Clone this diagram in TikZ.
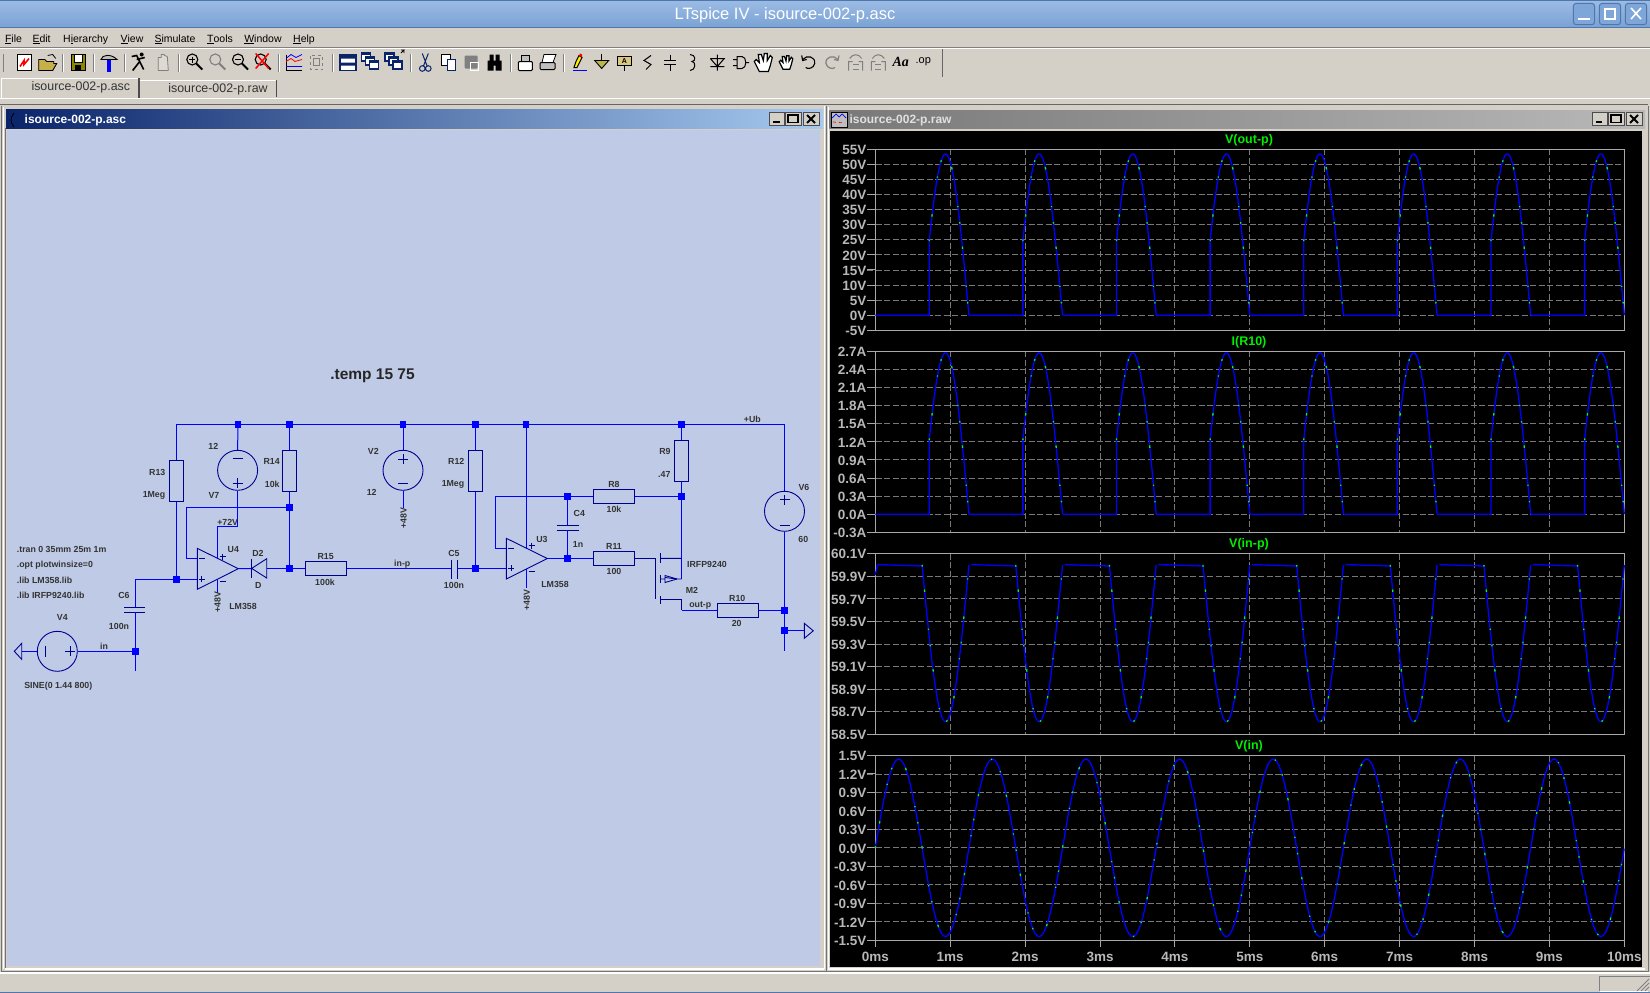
\documentclass[tikz,border=0pt]{standalone}
\usepackage{fontspec}
\setmainfont{Liberation Sans}
\newfontfamily\serifbi{Liberation Serif}
\usetikzlibrary{calc}
\definecolor{panel}{HTML}{D4D0C8}
\definecolor{canvas}{HTML}{BFCBE6}
\definecolor{wirec}{HTML}{0000FF}
\definecolor{compc}{HTML}{000090}
\definecolor{axisc}{HTML}{A8A8A8}
\definecolor{gridc}{HTML}{787878}
\definecolor{labc}{HTML}{B8B8B8}
\definecolor{ttlgreen}{HTML}{00F000}
\definecolor{folder}{HTML}{C8B048}
\definecolor{titletop}{HTML}{9ABBE4}
\definecolor{titlebot}{HTML}{7BA2D4}
\definecolor{btnc}{HTML}{7FA6D8}
\definecolor{btnb}{HTML}{4F77AB}
\definecolor{navyt}{HTML}{0A246A}
\definecolor{lightt}{HTML}{A6CAF0}
\newcommand{\ylabels}[4]{%
    \foreach \yl [count=\i from 0] in {#4} {
        \node[ylab] (#1\i) at (866.5,{#2+\i*#3}) {\yl};
        \draw[griddash] (867,{#2+\i*#3}) -- (1624.3,{#2+\i*#3});
        \draw[axisl] (867,{#2+\i*#3}) -- (875.3,{#2+\i*#3});
    }}
\tikzset{
    wire/.style={wirec,line width=1},
    comp/.style={compc,line width=.9},
    resv/.style={draw=compc,line width=.9,rectangle,inner sep=0pt,minimum width=14,minimum height=41},
    resh/.style={draw=compc,line width=.9,rectangle,inner sep=0pt,minimum width=41,minimum height=14},
    vsrc/.style={draw=compc,line width=.9,circle,inner sep=0pt,minimum size=40},
    lbl/.style={font=\bfseries\fontsize{8.8}{10}\selectfont,inner sep=0pt,text=black!80,yshift=-.8pt},
    menul/.style={font=\fontsize{10.5}{12}\selectfont,inner sep=0pt},
    wintitle/.style={font=\bfseries\fontsize{12}{14}\selectfont,inner sep=0pt,anchor=west},
    ylab/.style={font=\bfseries\fontsize{13.5}{15}\selectfont,inner sep=0pt,text=labc,anchor=east,yshift=-.5pt},
    xlab/.style={font=\bfseries\fontsize{13.5}{15}\selectfont,inner sep=0pt,text=labc},
    ptitle/.style={font=\bfseries\fontsize{12.5}{14}\selectfont,inner sep=0pt,text=ttlgreen,yshift=-1pt},
    griddash/.style={gridc,line width=.9,dash pattern=on 6pt off 2.5pt},
    axisl/.style={axisc,line width=1},
    trace/.style={wirec,line width=1.3},
    tracedot/.style={green,line width=1.3,dash pattern=on 1.6pt off 23pt on 2.4pt off 37pt on 1.2pt off 15pt},
    plus/.pic={\draw[comp] (-3,0) -- (3,0) (0,-3) -- (0,3);},
    minus/.pic={\draw[comp] (-3,0) -- (3,0);},
    bigplus/.pic={\draw[comp] (-5,0) -- (5,0) (0,-5) -- (0,5);},
    bigminus/.pic={\draw[comp] (-5,0) -- (5,0);},
    winbtn/.style={draw=black!70,fill=panel,line width=.8}
}
\begin{document}
\begin{tikzpicture}[x=1pt,y=-1pt,declare function={tx(\t)=875.3+74.9*\t;}]
    \useasboundingbox (0,0) rectangle (1650,993);
    \fill[panel] (0,0) rectangle (1650,993);
    % main title bar
    \shade[top color=titletop,bottom color=titlebot] (0,1) rectangle (1650,27);
    \draw[btnb,line width=1] (0,.5) -- (1650,.5) (0,27.5) -- (1650,27.5);
    \node[font=\fontsize{16.5}{18}\selectfont,text=white,inner sep=0pt] (maintitle) at (785,15.5) {LTspice IV - isource-002-p.asc};
    \foreach \x in {1584,1610,1636} {
        \draw[btnb,fill=btnc,rounded corners=3,line width=1] (\x-10.7,3.3) rectangle (\x+10.7,24.7);
    }
    \draw[white,line width=1.6] (1578,19) -- (1590,19);
    \draw[white,line width=1.2] (1605,9) rectangle (1615,19);
    \draw[white,line width=1.6] (1631,8) -- (1641,19) (1641,8) -- (1631,19);
    % menu bar
    \foreach \nm/\x/\txt in {mfile/13.5/\underline{F}ile,medit/41.6/\underline{E}dit,mhier/85.7/H\underline{i}erarchy,mview/132/\underline{V}iew,msim/175/\underline{S}imulate,mtools/220/\underline{T}ools,mwin/263/\underline{W}indow,mhelp/304/\underline{H}elp} {
        \node[menul] (\nm) at (\x,39.3) {\txt};
    }
    \draw[white,line width=1] (0,48) -- (1650,48);
    \draw[gray,line width=.6] (0,47.2) -- (1650,47.2);
    \draw[white,line width=1] (0,98.3) -- (1650,98.3);
    \draw[black!60,line width=1.2] (0,104.5) -- (1648,104.5);
    % toolbar
    \draw[gray,line width=1] (3.3,54) -- (3.3,72);
    \foreach \x in {62.7,93.7,124.7,178.3,278.3,332.7,410,510,563.7} {
        \draw[gray,line width=1] (\x,54) -- (\x,72);
        \draw[white,line width=.6] (\x+1,54) -- (\x+1,72);
    }
    \draw[black!60,line width=1] (942.7,49) -- (942.7,77);
    \draw[shift={(24,62.5)},fill=white,line width=1] (-7,-8) rectangle (7,8);
    \draw[shift={(24,62.5)},red,line width=1.6] (-4,4) -- (0,-2) -- (0,2) -- (5,-4);
    \draw[shift={(47.7,62.5)},fill=folder,line width=.9] (-9,8) -- (-9,-3) -- (-3,-3) -- (-1,-1) -- (6,-1) -- (6,1) -- (9,1) -- (5,8) -- cycle;
    \draw[shift={(47.7,62.5)},line width=.8] (0,-7) -- (5,-8) -- (8,-4);
    \draw[shift={(78,62.5)},fill=olive,line width=1] (-7,-8) rectangle (7,8);
    \draw[shift={(78,62.5)},fill=white,line width=.6] (-4,-8) rectangle (4,0);
    \draw[shift={(78,62.5)},fill=black,line width=.6] (-3,3) rectangle (2,8);
    \draw[shift={(109,62.5)},fill=lightgray,line width=.9] (-8,-3) .. controls (-7,-8) and (2,-9) .. (8,-3) -- (3,-3) -- (-3,-3) -- cycle;
    \fill[shift={(109,62.5)},wirec] (-2,-3) rectangle (2,9);
    \draw[shift={(138.7,62.5)},line width=1.6] (-7,-6) -- (-2,-7) -- (1,-1) -- (-6,8) (1,-1) -- (5,7) (-2,-3) -- (6,-5);
    \fill[shift={(138.7,62.5)}] (3,-8) circle (2);
    \draw[shift={(163.3,62.5)},gray,fill=panel!80!white,line width=.8] (-5,8) -- (-5,-5) -- (-2,-5) -- (-2,-8) -- (1,-8) -- (1,-7) -- (4,-6) -- (5,8) -- cycle;
    \foreach \x/\c in {194.3/black,217.3/gray,240/black,262.7/black} {
        \draw[shift={(\x,61.5)},\c,line width=1.1] (-2,-2) circle (5.5);
        \draw[shift={(\x,61.5)},\c,line width=2] (2,2) -- (8,8);
    }
    \draw[shift={(194.3,61.5)},line width=.8] (-5,-2) -- (1,-2) (-2,-5) -- (-2,1);
    \draw[shift={(240,61.5)},line width=.8] (-5,-2) -- (1,-2);
    \draw[shift={(262.7,61.5)},red,line width=1.5] (-7,-8) -- (6,7) (6,-8) -- (-7,7);
    \draw[shift={(294,62.5)},line width=1] (-8,-8) -- (-8,8) -- (8,8);
    \draw[shift={(294,62.5)},red,line width=.8] (-8,-1) -- (-3,-4) -- (1,-1) -- (8,-3);
    \draw[shift={(294,62.5)},wirec,line width=.8] (-8,-4) -- (-3,-8) -- (2,-5) -- (8,-8) (-8,4) -- (8,4);
    \draw[shift={(316.7,62.5)},gray,line width=.9,dashed] (-6,-7) rectangle (6,7);
    \draw[shift={(316.7,62.5)},gray,line width=.9] (-3,-4) rectangle (3,3);
    \draw[shift={(348,62.5)},navyt,fill=white,line width=1.4] (-8,-8) rectangle (8,8);
    \fill[shift={(348,62.5)},navyt] (-8,-8) rectangle (8,-4) (-8,0) rectangle (8,3);
    \foreach \x in {370.7,394} {
        \foreach \d in {0,4,8} {
            \draw[shift={(\x-6+\d,55+\d)},navyt,fill=white,line width=1.1] (-3,-2) rectangle (6,6);
            \fill[shift={(\x-6+\d,55+\d)},navyt] (-3,-2) rectangle (6,0);
        }
    }
    \draw[line width=.9] (401,53) -- (404,50) -- (401,50) (404,50) -- (404,53);
    \draw[shift={(425.3,62.5)},navyt,line width=1] (-3,-9) -- (2,4) (3,-9) -- (-2,4) (-3,6) circle (2.8) (3,6) circle (2.8);
    \draw[shift={(448.3,62.5)},fill=white,line width=.9] (-7,-8) rectangle (2,3);
    \draw[shift={(448.3,62.5)},navyt,fill=white,line width=.9] (-1,-3) rectangle (7,8);
    \fill[shift={(471.7,62.5)},gray,rounded corners=1] (-7,-7) rectangle (6,6);
    \draw[shift={(471.7,62.5)},white,line width=.8] (-1,0) rectangle (7,8);
    \fill[shift={(494.7,62.5)}] (-7,-2) rectangle (-1,8) (1,-2) rectangle (7,8) (-5,-8) rectangle (-1,-2) (1,-8) rectangle (5,-2) (-2,-2) rectangle (2,3);
    \draw[shift={(525.3,62.5)},fill=white,line width=1,rounded corners=1] (-7,-1) rectangle (7,8);
    \draw[shift={(525.3,62.5)},fill=lightgray,line width=.8] (-4,-7) rectangle (4,-1);
    \draw[shift={(548,62.5)},fill=lightgray,line width=1,rounded corners=1] (-8,0) rectangle (7,7);
    \draw[shift={(548,62.5)},fill=white,line width=.8] (-4,-8) -- (8,-8) -- (5,0) -- (-6,0) -- cycle;
    \draw[shift={(580,62.5)},wirec,line width=1] (-7,8) -- (7,8);
    \draw[shift={(580,62.5)},fill=yellow,line width=1] (-6,5) -- (-4,-1) -- (-1,-7) -- (2,-5) -- (-3,5) -- cycle;
    \fill[shift={(580,62.5)},red] (-1,-7) -- (0,-9) -- (2,-8) -- (2,-5) -- cycle;
    \draw[shift={(601.7,62.5)},line width=.9] (0,-9) -- (0,-2) (-7,-2) -- (7,-2);
    \draw[shift={(601.7,62.5)},fill=olive!60,line width=.9] (-7,-2) -- (7,-2) -- (0,6) -- cycle;
    \draw[shift={(624.3,62.5)},fill=folder!70,line width=1.2] (-7,-6) rectangle (7,3);
    \draw[shift={(624.3,62.5)},line width=.9] (0,3) -- (0,8);
    \node[font=\bfseries\fontsize{7}{8}\selectfont,inner sep=0pt] (ticona) at (624.3,61) {A};
    \draw[shift={(648,62.5)},line width=1] (3,-7) -- (-4,-2) -- (3,2) -- (-2,7);
    \draw[shift={(670.3,62.5)},line width=1] (0,-8) -- (0,-2) (-6,-2) -- (6,-2) (-6,2) -- (6,2) (0,2) -- (0,8);
    \draw[shift={(693,62.5)},line width=1] (-3,-8) .. controls (3,-8) and (3,-1) .. (-1,-1) .. controls (3,-1) and (3,8) .. (-3,8);
    \draw[shift={(717.3,62.5)},line width=1] (0,-8) -- (0,8) (-7,-4) -- (7,-4) -- (0,4) -- (-7,-4) (-7,4) -- (7,4);
    \draw[shift={(740,62.5)},line width=1] (-3,-6) -- (2,-6) .. controls (7,-6) and (7,6) .. (2,6) -- (-3,6) -- cycle (-7,-3) -- (-3,-3) (-7,3) -- (-3,3) (6,0) -- (9,0);
    \foreach \x/\s in {763.3/1,786/.75} {
        \draw[shift={(\x,62.5)},scale=\s,fill=white,line width=1.2] (-4,9) -- (-9,-1) -- (-7,-3) -- (-4,0) -- (-5,-8) -- (-2,-8) -- (0,-2) -- (1,-9) -- (4,-9) -- (4,-2) -- (7,-7) -- (9,-5) -- (7,3) -- (5,9) -- cycle;
    }
    \draw[shift={(808.7,62.5)},line width=1.1] (-6,-3) .. controls (-2,-8) and (7,-6) .. (6,1) .. controls (5,6) and (-1,7) .. (-3,5);
    \draw[shift={(808.7,62.5)},line width=1.1] (-7,-7) -- (-6,-2) -- (-2,-3);
    \draw[shift={(832,62.5)},gray,line width=1.2] (6,-3) .. controls (2,-8) and (-7,-6) .. (-6,1) .. controls (-5,6) and (1,7) .. (3,5);
    \draw[shift={(832,62.5)},gray,line width=1.1] (7,-7) -- (6,-2) -- (2,-3);
    \foreach \x in {855.7,878.3} {
        \draw[shift={(\x,62.5)},gray,line width=1] (-7,8) -- (-7,-1) -- (-3,-1) (7,8) -- (7,-1) -- (3,-1) (-6,-4) .. controls (-3,-9) and (3,-9) .. (6,-4);
        \draw[shift={(\x,62.5)},gray,line width=1] (-3,2) -- (3,2) (-3,7) -- (3,7);
    }
    \node[font=\serifbi\bfseries\itshape\fontsize{14}{15}\selectfont,inner sep=0pt] (ticonaa) at (900.7,62) {Aa};
    \node[font=\fontsize{11}{12}\selectfont,inner sep=0pt] (ticonop) at (923.3,61.5) {.op};
    % tabs
    \draw[white,line width=1] (1.7,97.7) -- (1.7,78) -- (139,78);
    \draw[black!70,line width=1.2] (139,78) -- (139,98);
    \draw[white,line width=1] (140,80) -- (276.5,80);
    \draw[black!70,line width=1.2] (276.5,80) -- (276.5,97);
    \node[font=\fontsize{12.4}{14}\selectfont,inner sep=0pt,text=black!80] (tabasc) at (80.8,87.7) {isource-002-p.asc};
    \node[font=\fontsize{12.4}{14}\selectfont,inner sep=0pt,text=black!80] (tabraw) at (218,89) {isource-002-p.raw};
    % window frames
    \draw[black!55,line width=1] (1.5,106) -- (1.5,971.5) -- (1648,971.5) -- (1648,106);
    \draw[white,line width=1] (3,107) -- (3,969);
    \draw[white,line width=1.6] (0,973) -- (1650,973);
    \draw[black!55,line width=1] (5.8,128) -- (5.8,968) -- (821,968);
    \draw[white,line width=1.4] (5,968.8) -- (824,968.8);
    \draw[white,line width=1] (824.5,106) -- (824.5,969);
    \draw[black!55,line width=1] (826.5,106) -- (826.5,971);
    \draw[white,line width=1] (828,107) -- (828,969);
    \draw[white,line width=1.4] (828,968.8) -- (1645,968.8);
    % schematic window
    \shade[left color=navyt,right color=lightt] (6,109.5) rectangle (823,128.3);
    \fill[canvas] (7.3,130) rectangle (820,966);
    \node[wintitle,text=white] (asctitle) at (24.5,120) {isource-002-p.asc};
    \draw[line width=.8] (14,113) .. controls (10,118) and (10,122) .. (14,127);
    \draw[winbtn] (769.3,112.7) rectangle (784,125.3);
    \draw[winbtn] (785,112.7) rectangle (801,125.3);
    \draw[winbtn] (803,112.7) rectangle (819,125.3);
    \draw[line width=1.6] (773,122) -- (780,122);
    \draw[line width=1.2] (788,115) rectangle (798,122.5);
    \draw[line width=1.8] (807,115) -- (815,123) (815,115) -- (807,123);
    % nodes of the schematic
    \coordinate (BusL) at (176.5,424.3);
    \foreach \nm/\x/\y in {B1/238/424.3,B2/289.5/424.3,B3/403/424.3,B4/475.5/424.3,B5/526/424.3,B6/681.5/424.3,Jin/176.5/579.3,Jv/135.3/651.3,Jf/289.5/507.3,Jo/289.5/568.3,Jc/475.5/568.3,Jn/567.3/496.3,Jm/567.3/558.5,Js/681.5/496.3,Jr/784.5/610.3,Jg/784.5/630.3} {
        \coordinate (\nm) at (\x,\y);
    }
    \coordinate (BusR) at (784.5,424.3);
    \node[resv] (R13) at (176.5,480.7) {};
    \node[resv] (R14) at (289.5,470.8) {};
    \node[resv] (R12) at (475.5,470.8) {};
    \node[resv] (R9) at (681.5,460.8) {};
    \node[resh] (R15) at (326,568.3) {};
    \node[resh] (R8) at (614,496.3) {};
    \node[resh] (R11) at (614,558.5) {};
    \node[resh] (R10) at (738,610.3) {};
    \node[vsrc] (V7) at (237.6,470.3) {};
    \node[vsrc] (V2) at (403,470.3) {};
    \node[vsrc] (V6) at (784.5,511.3) {};
    \node[vsrc] (V4) at (57.3,651.3) {};
    % op amps
    \coordinate (U4a) at (197.3,548.3);
    \coordinate (U4b) at (197.3,589.3);
    \coordinate (U4o) at (238.3,568.7);
    \draw[comp] (U4a) -- (U4b) -- (U4o) -- cycle;
    \coordinate (U3a) at (506.3,538.3);
    \coordinate (U3b) at (506.3,579);
    \coordinate (U3o) at (547.3,558.5);
    \draw[comp] (U3a) -- (U3b) -- (U3o) -- cycle;
    \foreach \nm/\x/\y in {plus/201.7/579.3,minus/201.7/558,plus/222.7/556.7,minus/222.7/581,plus/511/568.3,minus/511/548.3,plus/531.7/545.7,minus/531.7/571.7} {
        \pic at (\x,\y) {\nm};
    }
    \foreach \nm/\x/\y in {bigminus/237.6/458,bigplus/237.6/483.3,bigplus/403/459,bigminus/403/483.3,bigplus/784.5/499.7,bigminus/784.5/525.7,bigplus/70/651.3} {
        \pic at (\x,\y) {\nm};
    }
    \draw[comp] (45.3,646) -- (45.3,656.5);
    % wires
    \draw[wire] (BusL) -- (B1) -- (B2) -- (B3) -- (B4) -- (B5) -- (B6) -- (BusR) -- (V6.north);
    \draw[wire] (BusL) -- (R13.north);
    \draw[wire] (R13.south) -- (Jin);
    \draw[wire] (B1) -- (V7.north);
    \draw[wire] (B2) -- (R14.north);
    \draw[wire] (R14.south) -- (Jf) -- (Jo) -- (R15.west);
    \draw[wire] (V7.south) -- (237.6,526.7) -- (217.3,526.7) -- (217.3,558.8);
    \draw[wire] (217.3,579) -- (217.3,593);
    \draw[wire] (Jf) -- (186,507.3) -- (186,558) -- (197.3,558);
    \draw[wire] (197.3,579.3) -- (Jin) -- (135.3,579.3) -- (135.3,607.3);
    \draw[comp] (124,607.3) -- (144.7,607.3) (124,612.3) -- (144.7,612.3);
    \draw[wire] (135.3,612.3) -- (Jv) -- (135.3,670.7);
    \draw[wire] (V4.east) -- (Jv);
    \draw[wire] (V4.west) -- (21.7,651.3);
    \draw[comp] (21.7,643.3) -- (14.3,651.3) -- (21.7,659.3) -- cycle;
    \draw[wire] (U4o) -- (251.7,568.5);
    \draw[wire] (266.7,568.3) -- (Jo);
    \draw[comp] (266.7,558.7) -- (266.7,578) -- (251.7,568.4) -- cycle;
    \draw[comp] (251.7,558.7) -- (251.7,578);
    \draw[wire] (R15.east) -- (451.7,568.3);
    \draw[comp] (451.7,559.5) -- (451.7,579) (457.3,559.5) -- (457.3,579);
    \draw[wire] (457.3,568.3) -- (Jc) -- (506.3,568.3);
    \draw[wire] (B3) -- (V2.north);
    \draw[wire] (V2.south) -- (403,508);
    \draw[wire] (B4) -- (R12.north);
    \draw[wire] (R12.south) -- (Jc);
    \draw[wire] (B5) -- (526,548.5);
    \draw[wire] (526,568.7) -- (526,588);
    \draw[wire] (506.3,548.3) -- (495.7,548.3) -- (495.7,496.3) -- (Jn) -- (R8.west);
    \draw[wire] (R8.east) -- (Js);
    \draw[wire] (Jn) -- (567.3,525.7);
    \draw[comp] (556.7,525.7) -- (578.7,525.7) (556.7,530.3) -- (578.7,530.3);
    \draw[wire] (567.3,530.3) -- (Jm);
    \draw[wire] (U3o) -- (Jm) -- (R11.west);
    \draw[wire] (B6) -- (R9.north);
    \draw[wire] (R9.south) -- (Js) -- (681.5,579);
    \draw[comp] (R11.east) -- (655.7,558.5) -- (655.7,599.3);
    \draw[comp] (660.3,553.3) -- (660.3,562.7) (660.3,575) -- (660.3,582.7) (660.3,596) -- (660.3,604.3);
    \draw[comp] (660.3,558.3) -- (681.5,558.3) (681.5,579) -- (677,579) (660.3,579) -- (665,579) (665,575.5) -- (665,582.5) -- (677,579) -- cycle;
    \draw[comp] (665,577.5) -- (677,579);
    \draw[comp] (660.3,599.3) -- (681.5,599.3) -- (681.5,610.3);
    \draw[wire] (681.5,610.3) -- (R10.west);
    \draw[wire] (R10.east) -- (Jr);
    \draw[wire] (V6.south) -- (Jr) -- (Jg) -- (784.5,650.7);
    \draw[wire] (Jg) -- (804.3,630.3);
    \draw[comp] (804.3,623.3) -- (813.3,630.8) -- (804.3,638.3) -- cycle;
    \foreach \nm in {B1,B2,B3,B4,B5,B6,Jin,Jv,Jf,Jo,Jc,Jn,Jm,Js,Jr,Jg} {
        \fill[wirec] ($(\nm)+(-3.4,-3.4)$) rectangle ($(\nm)+(3.4,3.4)$);
    }
    % schematic labels
    \foreach \nm/\x/\y/\txt in {lR13/157.3/471.7/R13,lR13v/154/495/1Meg,lV7v/213.3/445.7/12,lV7/214/494.7/V7,lR14/271.7/460.7/R14,lR14v/272.3/483.3/10k,lV2/373.3/450.7/V2,lV2v/371.7/491.3/12,lp72/227.7/521.7/+72V,lU4/233.3/548.7/U4,lD2/258/552.7/D2,lDv/258.3/584.3/D,lR15/325.7/555.3/R15,lR15v/325/581.7/100k,linp/402.3/563/in-p,lU4v/243/605.7/LM358,lC6/124/595/C6,lC6v/119/625.7/100n,lV4/62.3/616.7/V4,lV4v/58.3/685/SINE(0 1.44 800),lin/104/646/in,lR12/456.3/460.7/R12,lR12v/453/484/1Meg,lC5/454/552.7/C5,lC5v/454/584.3/100n,lU3/542/538.7/U3,lU3v/555/583.7/LM358,lC4/579.3/512.7/C4,lC4v/578/543.7/1n,lR8/614/483.7/R8,lR8v/614/508.7/10k,lR11/614/545.7/R11,lR11v/614/570.7/100,lR9/665/450.7/R9,lR9v/664.3/473.7/.47,lM2v/707/563.7/IRFP9240,lM2/692/589.7/M2,loutp/700.3/605/out-p,lR10/737.3/597.7/R10,lR10v/736.7/622.3/20,lUb/752.3/418.7/+Ub,lV6/804/486.7/V6,lV6v/803.3/538.3/60} {
        \node[lbl] (\nm) at (\x,\y) {\txt};
    }
    \foreach \nm/\x/\y in {p48a/217.5/601,p48b/403.5/517.5,p48c/526.8/599} {
        \node[lbl,rotate=90] (\nm) at (\x,\y) {+48V};
    }
    \foreach \nm/\y/\txt in {dtran/548.7/.tran 0 35mm 25m 1m,dopt/564/.opt plotwinsize=0,dlibl/579.7/.lib LM358.lib,dlibi/594.7/.lib IRFP9240.lib} {
        \node[lbl,anchor=west] (\nm) at (16.7,\y) {\txt};
    }
    \node[font=\bfseries\fontsize{15.5}{17}\selectfont,inner sep=0pt,text=black!85] (tempcmd) at (372.5,375.3) {.temp 15 75};
    % waveform window
    \shade[left color=gridc,right color=labc] (829.3,110) rectangle (1645,128);
    \fill[black] (830,130.7) rectangle (1642,966.7);
    \node[wintitle,text=white!88!black] (rawtitle) at (849.3,120) {isource-002-p.raw};
    \draw[line width=.7,fill=lightgray] (831,112) rectangle (847,127);
    \draw[wirec,line width=.7] (832,118) -- (836,114) -- (839,117) -- (842,114) -- (846,118);
    \draw[red,line width=.7,dashed] (833,122) -- (845,123);
    \draw[winbtn] (1592,112.7) rectangle (1607,125.3);
    \draw[winbtn] (1608,112.7) rectangle (1624,125.3);
    \draw[winbtn] (1626,112.7) rectangle (1642,125.3);
    \draw[line width=1.6] (1596,122) -- (1602,122);
    \draw[line width=1.2] (1611,115) rectangle (1621,122.5);
    \draw[line width=1.8] (1630,115) -- (1638,123) (1638,115) -- (1630,123);
    % plots
    \ylabels{ya}{149.3}{15.083}{55V,50V,45V,40V,35V,30V,25V,20V,15V,10V,5V,0V,-5V}
    \ylabels{yb}{351.3}{18.1}{2.7A,2.4A,2.1A,1.8A,1.5A,1.2A,0.9A,0.6A,0.3A,0.0A,-0.3A}
    \ylabels{yc}{553.7}{22.58}{60.1V,59.9V,59.7V,59.5V,59.3V,59.1V,58.9V,58.7V,58.5V}
    \ylabels{yd}{755.5}{18.48}{1.5V,1.2V,0.9V,0.6V,0.3V,0.0V,-0.3V,-0.6V,-0.9V,-1.2V,-1.5V}
    \foreach \pa/\pb/\ty/\ttl [count=\p] in {149.3/330.3/139/V(out-p),351.3/532.3/341/I(R10),553.7/734.3/543/V(in-p),755.5/940.3/745.5/V(in)} {
        \foreach \m in {1,...,9} {
            \draw[griddash] ({tx(\m)},\pa) -- ({tx(\m)},\pb);
        }
        \draw[axisl] (875.3,\pa) rectangle (1624.3,\pb);
        \node[ptitle] (title\p) at (1249,\ty) {\ttl};
    }
    \foreach \m in {0,...,10} {
        \draw[axisl] ({tx(\m)},940.3) -- ({tx(\m)},946.7);
        \node[xlab] (xt\m) at ({tx(\m)},956.5) {\m ms};
    }
    % traces
    \foreach \yz in {315.3,514.2} {
        \foreach \k in {0,...,7} {
            \pgfmathsetmacro\tb{1.25*\k}
            \pgfmathsetmacro\ts{0.72+1.25*\k}
            \pgfmathsetmacro\te{1.25+1.25*\k}
            \draw[trace] ({tx(\tb)},\yz) -- ({tx(\ts)},\yz) -- plot[domain=\ts:\te,samples=34] ({tx(\x)},{\yz+161.4*sin(288*\x)});
            \draw[tracedot] plot[domain=\ts:\te,samples=34] ({tx(\x)},{\yz+161.4*sin(288*\x)});
        }
    }
    \draw[trace] ({tx(0)},575) -- ({tx(.03)},564.6);
    \foreach \k in {0,...,7} {
        \pgfmathsetmacro\tb{1.25*\k+.03}
        \pgfmathsetmacro\ts{0.625+1.25*\k}
        \pgfmathsetmacro\te{1.25+1.25*\k}
        \draw[trace] ({tx(\tb)},564.6) -- ({tx(\ts)},566) -- plot[domain=\ts:\te,samples=40] ({tx(\x)},{565-156.7*sin(288*\x)});
        \draw[tracedot] plot[domain=\ts:\te,samples=40] ({tx(\x)},{565-156.7*sin(288*\x)});
    }
    \draw[trace] plot[domain=0:10,samples=320] ({tx(\x)},{847.8-88.8*sin(288*\x)});
    \draw[tracedot] plot[domain=0:10,samples=320] ({tx(\x)},{847.8-88.8*sin(288*\x)});
    % status bar
    \draw[gray,line width=.8] (1599,991) -- (1599,976) -- (1650,976);
    \draw[white,line width=.8] (1599.5,991) -- (1648,991);
    \draw[gray,line width=.9] (1637,991) -- (1649,979) (1641,991) -- (1649,983) (1645,991) -- (1649,987);
    \draw[btnb,line width=1.2] (0,992.4) -- (1650,992.4);
\end{tikzpicture}
\end{document}
